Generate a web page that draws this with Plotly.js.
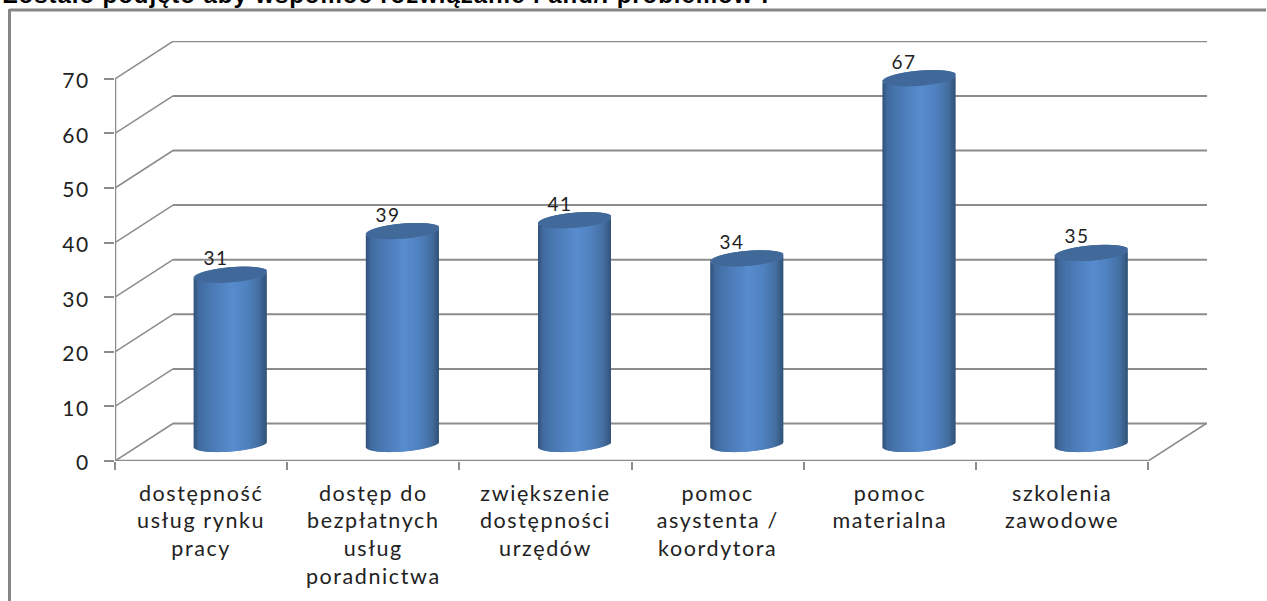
<!DOCTYPE html>
<html><head><meta charset="utf-8">
<script src="https://cdn.plot.ly/plotly-3.0.1.min.js"></script>
<style>
html,body{margin:0;padding:0;background:#fff;overflow:hidden}
#c{width:1267px;height:601px}
.xtick text{letter-spacing:1.6px}
.ytick text{letter-spacing:1.6px}
.annotation text{letter-spacing:1.4px}
.annotation[data-index="6"] text{letter-spacing:0.95px}
</style></head><body><div id="c"></div>
<script>
const categories=["dostępność<br>usług rynku<br>pracy","dostęp do<br>bezpłatnych<br>usług<br>poradnictwa","zwiększenie<br>dostępności<br>urzędów","pomoc<br>asystenta /<br>koordytora","pomoc<br>materialna","szkolenia<br>zawodowe"];
const values=[31,39,41,34,67,35];
const yTicks=[0,10,20,30,40,50,60,70];
const titleText="Zostało podjęto aby wspomóc rozwiązanie i and/. problemów :";

const W=1267,H=601,L=115,R=60,T=41,B=140;
const pxX=172.2,pxY=5.46,depthX=58,depthY=37.5;
const dX=depthX/pxX,dY=depthY/pxY;
const xMin=-0.5,xMax=-0.5+(W-L-R)/pxX,yMax=(H-T-B)/pxY;
const n=categories.length,gray="#8c8c8c";
const lerpStops=[[-1,[50,82,122]],[-0.85,[66,108,160]],[-0.45,[76,124,184]],[0.05,[88,140,206]],[0.45,[80,130,192]],[0.8,[68,110,160]],[1,[50,82,120]]];
function shade(u){for(let i=1;i<lerpStops.length;i++){if(u<=lerpStops[i][0]){const a=lerpStops[i-1],b=lerpStops[i],t=(u-a[0])/(b[0]-a[0]);return "rgb("+a[1].map((c,j)=>Math.round(c+(b[1][j]-c)*t)).join(",")+")";}}return "rgb(50,82,120)";}
const halfW=36.5,capB=7.5,tilt=3,lift=17;
const bodies=[],caps=[];
for(let k=0;k<2*halfW;k++){
  const u=(k+0.5-halfW)/halfW,off=(k-halfW+depthX/2)/pxX,w=Math.min(2.5,2*halfW-k)/pxX;
  const arc=capB*Math.sqrt(1-u*u),low=(lift+tilt*u-arc)/pxY;
  bodies.push({type:"bar",x:categories,y:values,base:values.map(()=>low),offset:off,width:w,marker:{color:shade(u),opacity:1,line:{width:0}},hoverinfo:"skip",showlegend:false});
  caps.push({type:"bar",x:categories,y:values.map(()=>2*arc/pxY),base:values.map(v=>v+low),offset:off,width:w,marker:{color:"#41699a",opacity:1,line:{width:0}},hoverinfo:"skip",showlegend:false});
}
const traces=bodies.concat(caps);
const line=(x0,y0,x1,y1,wd)=>({type:"line",xref:"x",yref:"y",x0,y0,x1,y1,layer:"below",line:{color:gray,width:wd}});
const shapes=[];
yTicks.forEach(v=>{
  shapes.push(line(xMin+dX,v+dY,xMax,v+dY,2));
  shapes.push(line(xMin,v,xMin+dX,v+dY,1.5));
});
shapes.push(line(xMin,0,xMin+n,0,2.5));
shapes.push(line(xMin,0,xMin,yTicks[yTicks.length-1],2.5));
shapes.push(line(xMin+n,0,xMin+n+dX,dY,1.5));
const px=x=>(x-L)/(W-L-R),py=y=>1-(y-T)/(H-T-B);
shapes.push({type:"line",xref:"paper",yref:"paper",x0:px(9.5),y0:py(10),x1:px(W-1),y1:py(10),line:{color:"#868686",width:3}});
shapes.push({type:"line",xref:"paper",yref:"paper",x0:px(9.5),y0:py(9),x1:px(9.5),y1:py(H),line:{color:"#868686",width:3}});
const annotations=values.map((v,i)=>({xref:"x",yref:"y",x:i+(depthX/2-14.5)/pxX,y:v+(lift+17)/pxY,text:String(v),showarrow:false,xanchor:"center",yanchor:"middle",font:{family:"Lato",size:19,color:"#222"}}));
annotations.push({xref:"paper",yref:"paper",x:px(2),y:py(-20),xanchor:"left",yanchor:"top",showarrow:false,align:"left",text:"<b>"+titleText+"</b>",borderpad:0,font:{family:"Liberation Sans",size:24,color:"#000"}});
Plotly.newPlot("c",traces,{
  width:W,height:H,margin:{l:L,r:R,t:T,b:B,pad:0},paper_bgcolor:"#fff",plot_bgcolor:"#fff",
  barmode:"overlay",showlegend:false,
  xaxis:{type:"category",categoryorder:"array",categoryarray:categories,range:[xMin,xMax],tickson:"boundaries",ticks:"outside",ticklen:8,tickwidth:2,tickcolor:gray,showgrid:false,zeroline:false,showline:false,fixedrange:true,tickangle:0,ticklabelstandoff:17,tickfont:{family:"Lato",size:21.5,color:"#222"},automargin:false},
  yaxis:{range:[0,yMax],tickmode:"array",tickvals:yTicks,ticktext:yTicks.map(String),ticks:"outside",ticklen:10,tickwidth:2,tickcolor:gray,showgrid:false,zeroline:false,showline:false,fixedrange:true,ticklabelstandoff:10,tickfont:{family:"Lato",size:21,color:"#222"},automargin:false},
  shapes,annotations
},{staticPlot:true,displayModeBar:false}).then(()=>{
  document.querySelectorAll(".ytick text").forEach(t=>t.setAttribute("dy","2"));
});
</script></body></html>
